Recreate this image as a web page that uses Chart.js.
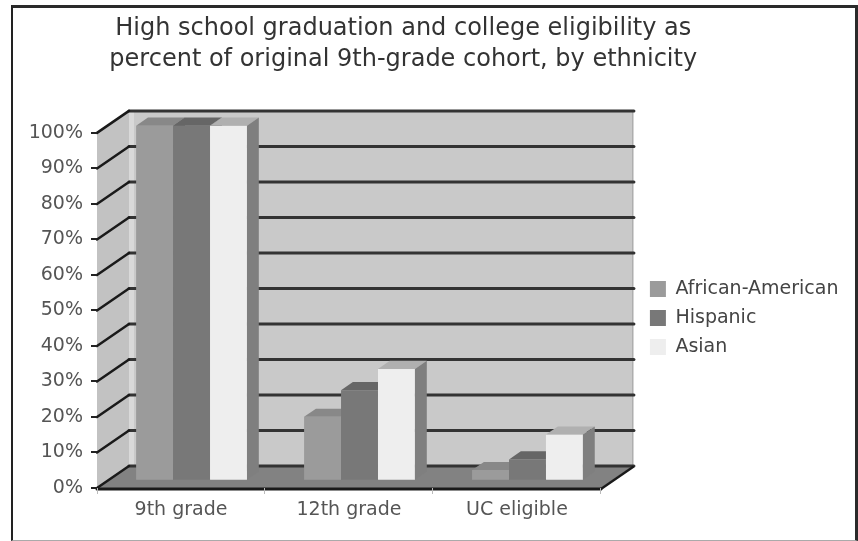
<!DOCTYPE html>
<html>
<head>
<meta charset="utf-8">
<script src="https://cdn.jsdelivr.net/npm/chart.js@4.4.0/dist/chart.umd.min.js"></script>
<style>
  html, body { margin: 0; padding: 0; background: #fff; }
  #wrap { position: relative; width: 858px; height: 541px; }
  #frame {
    position: absolute; left: 11px; top: 5px; width: 842px; height: 532px;
    border-left: 2px solid #222; border-top: 3px solid #2a2a2a;
    border-right: 3px solid #2a2a2a; border-bottom: 1px solid #aaa;
    pointer-events: none;
  }
  canvas { position: absolute; left: 0; top: 0; }
</style>
</head>
<body>
<div id="wrap">
  <canvas id="myChart"></canvas>
  <div id="frame"></div>
</div>
<script>
const titleLines = ['High school graduation and college eligibility as',
                    'percent of original 9th-grade cohort, by ethnicity'];
const categories = ['9th grade', '12th grade', 'UC eligible'];
const seriesNames = ['African-American', 'Hispanic', 'Asian'];
const africanAmerican = [100, 18, 3];
const hispanic = [100, 25.5, 6];
const asian = [100, 31.5, 13];

// greys for the box faces
const frontColors = ['#9b9b9b', '#787878', '#eeeeee'];
const topColors = ['#888888', '#666666', '#b0b0b0'];
const sideColors = ['#7c7c7c', '#5e5e5e', '#7f7f7f'];

const DX = 32, DY = -22;     // depth of the 3d box
const F1 = 0.33, F2 = 0.70;  // bars stand between these depth fractions
const font = "'DejaVu Sans', sans-serif";

function face(ctx, pts, color) {
    ctx.fillStyle = color;
    ctx.beginPath();
    ctx.moveTo(pts[0][0], pts[0][1]);
    for (let k = 1; k < pts.length; k++) ctx.lineTo(pts[k][0], pts[k][1]);
    ctx.closePath();
    ctx.fill();
}

function line(ctx, x0, y0, x1, y1, color, w) {
    ctx.strokeStyle = color;
    ctx.lineWidth = w;
    ctx.beginPath();
    ctx.moveTo(x0, y0);
    ctx.lineTo(x1, y1);
    ctx.stroke();
}

const box3d = {
    id: 'box3d',
    afterLayout(chart) {
        // title is centred a bit left of the canvas middle
        chart.titleBlock.right -= 52;
    },
    beforeDraw(chart) {
        const ctx = chart.ctx;
        const a = chart.chartArea;
        const y = chart.scales.y;
        const L = a.left, R = a.right, T = a.top, B = a.bottom;
        ctx.save();
        // back wall
        ctx.fillStyle = '#c9c9c9';
        ctx.fillRect(L + DX, T + DY, R - L, B - T);
        ctx.fillStyle = '#d9d9d9';
        ctx.fillRect(L + DX, T + DY, 5, B - T);
        line(ctx, R + DX, T + DY, R + DX, B + DY, '#999', 1);
        // side wall
        face(ctx, [[L, T], [L + DX, T + DY], [L + DX, B + DY], [L, B]], '#c2c2c2');
        // floor
        face(ctx, [[L, B], [L + DX, B + DY], [R + DX, B + DY], [R, B]], '#828282');
        // grid lines on back and side walls
        ctx.lineCap = 'round';
        y.ticks.forEach(t => {
            const py = y.getPixelForValue(t.value);
            line(ctx, L + DX, py + DY, R + DX + 1, py + DY, '#333', 3);
            line(ctx, L, py, L + DX, py + DY, '#1a1a1a', 2.5);
        });
        // floor edges
        line(ctx, L, B + 1, R, B + 1, '#1a1a1a', 3);
        line(ctx, R, B + 1, R + DX, B + DY + 1, '#1a1a1a', 2.5);
        ctx.restore();
    },
    beforeDatasetsDraw(chart) {
        const ctx = chart.ctx;
        const n = chart.data.datasets.length;
        const fx = F1 * DX, fy = F1 * DY;
        const ddx = (F2 - F1) * DX, ddy = (F2 - F1) * DY;
        ctx.save();
        for (let j = 0; j < categories.length; j++) {
            for (let i = 0; i < n; i++) {
                const el = chart.getDatasetMeta(i).data[j];
                const x0 = el.x - el.width / 2 + fx, x1 = el.x + el.width / 2 + fx;
                const yt = el.y + fy, yb = el.base + fy;
                face(ctx, [[x0, yt], [x1, yt], [x1, yb], [x0, yb]], frontColors[i]);
                face(ctx, [[x0, yt], [x0 + ddx, yt + ddy], [x1 + ddx, yt + ddy], [x1, yt]], topColors[i]);
                face(ctx, [[x1, yt], [x1 + ddx, yt + ddy], [x1 + ddx, yb + ddy], [x1, yb]], sideColors[i]);
            }
        }
        ctx.restore();
        return false;  // the flat bars are not drawn
    }
};

const ctx = document.getElementById('myChart');
const values = [africanAmerican, hispanic, asian];

new Chart(ctx, {
    type: 'bar',
    data: {
        labels: categories,
        datasets: seriesNames.map((name, i) => ({
            label: name,
            data: values[i],
            backgroundColor: frontColors[i],
            borderWidth: 0,
            categoryPercentage: 0.66,
            barPercentage: 1.0
        }))
    },
    plugins: [box3d],
    options: {
        responsive: true,
        maintainAspectRatio: false,
        animation: false,
        layout: { padding: { left: 10, right: 9.5, top: 0, bottom: 0 } },
        plugins: {
            title: {
                display: true,
                text: titleLines,
                color: '#333',
                font: { family: font, size: 24, weight: 'normal', lineHeight: 1.3 },
                padding: { top: 13, bottom: 57.5 }
            },
            legend: {
                position: 'right',
                fullSize: false,
                title: { display: true, text: ' ', font: { size: 10 }, padding: 1.5 },
                labels: {
                    boxWidth: 16,
                    boxHeight: 16,
                    padding: 10,
                    color: '#444',
                    font: { family: font, size: 19 }
                }
            },
            tooltip: { enabled: false }
        },
        scales: {
            x: {
                grid: { display: true, drawOnChartArea: false, drawTicks: true, tickLength: 6, color: '#bbb', offset: true },
                border: { display: false },
                ticks: { color: '#555', padding: 5, font: { family: font, size: 19 } },
                afterFit: s => { s.height = 53; }
            },
            y: {
                min: 0,
                max: 100,
                grid: { display: true, drawOnChartArea: false, drawTicks: true, tickLength: 6, color: '#222', lineWidth: 2 },
                border: { display: false },
                ticks: { stepSize: 10, color: '#555', padding: 8, font: { family: font, size: 19 }, callback: v => v + '%' },
                afterFit: s => { s.width = 87; }
            },
            depth: {
                // hidden axis that only leaves room for the depth of the box
                position: 'right',
                display: false,
                afterFit: s => { s.width = 39; }
            }
        }
    }
});
</script>
</body>
</html>
